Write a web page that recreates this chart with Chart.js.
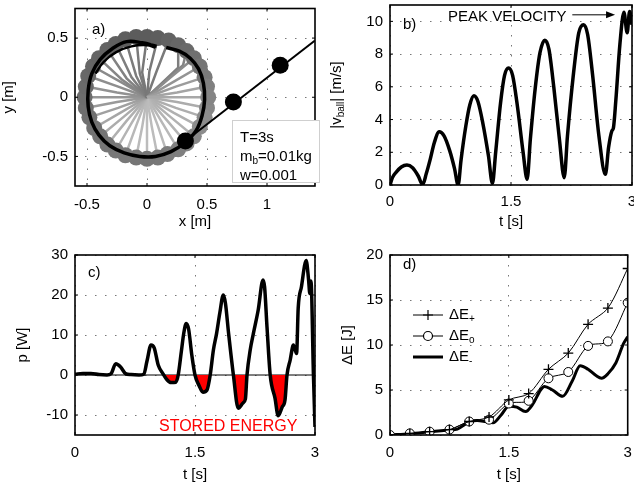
<!DOCTYPE html>
<html>
<head>
<meta charset="utf-8">
<script src="https://cdn.jsdelivr.net/npm/chart.js@4.4.1/dist/chart.umd.min.js"></script>
<style>
  html, body { margin: 0; padding: 0; background: #fff; }
  #wrap { position: relative; width: 634px; height: 489px; }
  #wrap canvas { position: absolute; left: 0; top: 0; width: 634px; height: 489px; }
</style>
</head>
<body>
<div id="wrap">
  <canvas id="armChart" width="634" height="489"></canvas>
  <canvas id="speedChart" width="634" height="489"></canvas>
  <canvas id="powerChart" width="634" height="489"></canvas>
  <canvas id="energyChart" width="634" height="489"></canvas>
</div>
<script>
// ---- a) hand path, released ball and arm/string snapshots ----
const handX = [0.08, -0.04, -0.17, -0.29, -0.39, -0.46, -0.49, -0.49, -0.46, -0.40, -0.31, -0.19, -0.06, 0.07, 0.20, 0.32, 0.41, 0.46, 0.48, 0.47, 0.43, 0.36, 0.27, 0.16];
const handY = [0.43, 0.46, 0.47, 0.41, 0.32, 0.20, 0.06, -0.08, -0.21, -0.32, -0.41, -0.47, -0.50, -0.50, -0.46, -0.38, -0.28, -0.15, -0.02, 0.12, 0.24, 0.33, 0.39, 0.42];
const handInnerX = [-0.43, -0.36, -0.26, -0.13, 0.0, 0.07];
const handInnerY = [0.20, 0.30, 0.38, 0.43, 0.44, 0.42];
const flightX = [0.32, 0.72, 1.11];
const flightY = [-0.37, -0.04, 0.27];
const releaseX = [0.32, 1.4];
const releaseY = [-0.37, 0.48];
const ballX = [0.51, 0.50, 0.48, 0.44, 0.39, 0.33, 0.26, 0.18, 0.09, 0.00, -0.09, -0.18, -0.26, -0.33, -0.40, -0.45, -0.49, -0.51, -0.52, -0.51, -0.48, -0.44, -0.39, -0.33, -0.26, -0.18, -0.09, 0.00, 0.09, 0.17, 0.26, 0.33, 0.39, 0.44, 0.48, 0.50];
const ballY = [0.00, 0.09, 0.17, 0.26, 0.33, 0.39, 0.44, 0.48, 0.50, 0.51, 0.51, 0.49, 0.45, 0.40, 0.33, 0.26, 0.18, 0.09, 0.00, -0.09, -0.17, -0.26, -0.33, -0.40, -0.45, -0.49, -0.51, -0.52, -0.51, -0.48, -0.44, -0.39, -0.33, -0.25, -0.17, -0.09];
const elbowX = [0.25, 0.25, 0.24, 0.22, 0.20, 0.30, 0.26, 0.08, 0.02, -0.04, -0.06, -0.09, -0.13, -0.17, -0.21, -0.22, -0.24, -0.25, -0.26, -0.25, -0.24, -0.22, -0.20, -0.17, -0.13, -0.09, -0.04, 0.00, 0.04, 0.09, 0.13, 0.17, 0.20, 0.22, 0.24, 0.25];
const elbowY = [0.00, 0.04, 0.09, 0.13, 0.17, 0.27, 0.25, 0.22, 0.22, 0.21, 0.20, 0.18, 0.17, 0.16, 0.15, 0.13, 0.09, 0.04, 0.00, -0.04, -0.09, -0.13, -0.17, -0.20, -0.22, -0.24, -0.25, -0.26, -0.25, -0.24, -0.22, -0.20, -0.17, -0.13, -0.09, -0.04];
const ballGray = ["#858585", "#808080", "#7a7a7a", "#757575", "#707070", "#6a6a6a", "#666666", "#626262", "#5e5e5e", "#5c5c5c", "#5c5c5c", "#5e5e5e", "#606060", "#626262", "#646464", "#666666", "#686868", "#6a6a6a", "#6c6c6c", "#6e6e6e", "#707070", "#727272", "#747474", "#767676", "#787878", "#787878", "#767676", "#767676", "#787878", "#7c7c7c", "#808080", "#848484", "#888888", "#8c8c8c", "#8c8c8c", "#888888"];
const armGray = ["#a8a8a8", "#a4a4a4", "#9c9c9c", "#949494", "#8c8c8c", "#848484", "#7e7e7e", "#7a7a7a", "#787878", "#787878", "#7a7a7a", "#7c7c7c", "#7e7e7e", "#828282", "#868686", "#8a8a8a", "#8e8e8e", "#929292", "#969696", "#9a9a9a", "#a0a0a0", "#a6a6a6", "#acacac", "#b0b0b0", "#b4b4b4", "#b8b8b8", "#bababa", "#bcbcbc", "#bcbcbc", "#bababa", "#b8b8b8", "#b4b4b4", "#b2b2b2", "#b0b0b0", "#aeaeae", "#acacac"];
const armXTicks = [-0.5, 0, 0.5, 1];
const armYTicks = [-0.5, 0, 0.5];

// ---- b) ball speed ----
const speedT = [0, 0.03, 0.08, 0.14, 0.21, 0.28, 0.35, 0.405, 0.45, 0.5, 0.55, 0.61, 0.67, 0.74, 0.8, 0.845, 0.88, 0.94, 0.99, 1.04, 1.09, 1.15, 1.22, 1.27, 1.31, 1.37, 1.42, 1.47, 1.52, 1.58, 1.65, 1.70, 1.74, 1.80, 1.86, 1.92, 1.97, 2.03, 2.10, 2.16, 2.20, 2.27, 2.34, 2.40, 2.45, 2.51, 2.59, 2.67, 2.71, 2.75, 2.77, 2.80, 2.85, 2.90, 2.94, 2.97, 3.0];
const speedV = [0, 0.45, 0.8, 1.1, 1.22, 1.05, 0.55, 0.02, 0.7, 1.6, 2.6, 3.25, 3.0, 2.1, 1.0, 0.0, 1.5, 3.6, 4.9, 5.45, 5.1, 3.8, 1.8, 0.1, 2.0, 5.0, 6.7, 7.15, 6.7, 4.8, 2.0, 0.35, 2.8, 5.9, 8.1, 8.85, 8.3, 6.0, 2.8, 0.45, 3.0, 6.6, 9.3, 9.8, 9.2, 6.8, 3.0, 0.65, 2.3, 3.3, 3.5, 5.2, 8.6, 10.55, 9.3, 10.6, 9.8];
const speedTicks = [0, 2, 4, 6, 8, 10];

// ---- c) power ----
const powerT = [0, 0.1, 0.2, 0.3, 0.4, 0.45, 0.51, 0.57, 0.63, 0.7, 0.8, 0.86, 0.9, 0.95, 0.99, 1.04, 1.1, 1.15, 1.2, 1.26, 1.29, 1.33, 1.36, 1.39, 1.42, 1.46, 1.5, 1.55, 1.6, 1.65, 1.69, 1.73, 1.77, 1.81, 1.854, 1.88, 1.92, 1.98, 2.04, 2.1, 2.13, 2.15, 2.19, 2.23, 2.29, 2.35, 2.37, 2.4, 2.44, 2.5, 2.54, 2.59, 2.625, 2.65, 2.69, 2.73, 2.77, 2.79, 2.83, 2.89, 2.92, 2.935, 2.95, 2.98, 3.0];
const powerP = [0.2, 0.4, 0.4, 0.1, 0.0, 0.3, 2.8, 2.0, 0.4, 0.1, 0.0, 0.2, 3.5, 7.5, 6.8, 2.5, 0.3, -1.2, -1.9, -1.8, 0.0, 6.0, 10.5, 12.9, 11.5, 5.0, 0.0, -2.6, -4.3, -3.75, 0.0, 6.25, 10.4, 15.5, 20.0, 18.0, 10.4, 0.0, -8.3, -7.0, -6.0, 0.0, 6.25, 10.4, 16.25, 23.75, 22.0, 12.0, 0.0, -5.8, -10.2, -8.0, -6.25, 0.0, 3.75, 7.5, 5.4, 16.7, 22.0, 28.6, 23.75, 20.4, 23.5, 0.4, -13];
const powerTicks = [-10, 0, 10, 20, 30];

// ---- d) energy ----
const markT = [0, 0.25, 0.5, 0.75, 1.0, 1.25, 1.5, 1.75, 2.0, 2.25, 2.5, 2.75, 3.0];
const gainPlus = [0, 0.18, 0.37, 0.6, 1.5, 2.0, 3.9, 4.6, 7.3, 9.1, 12.3, 14.1, 18.5];
const gainZero = [0, 0.18, 0.37, 0.6, 1.5, 1.7, 3.5, 3.8, 6.3, 7.0, 9.9, 10.4, 14.7];
const gainMinusT = [0, 0.25, 0.5, 0.75, 0.85, 0.95, 1.0, 1.1, 1.2, 1.3, 1.4, 1.5, 1.6, 1.71, 1.8, 1.9, 1.95, 2.05, 2.18, 2.3, 2.4, 2.5, 2.6, 2.67, 2.75, 2.85, 2.95, 3.0];
const gainMinus = [0, 0.15, 0.35, 0.55, 0.65, 1.2, 1.45, 1.6, 1.5, 1.35, 2.2, 3.2, 3.1, 2.6, 3.4, 5.0, 5.4, 5.0, 4.3, 6.0, 7.7, 7.3, 6.6, 6.3, 6.8, 8.0, 10.2, 10.9];
const energyTicks = [0, 5, 10, 15, 20];

const timeTicks = [0, 1.5, 3];

Chart.defaults.font.family = "'Liberation Sans', Arial, Helvetica, sans-serif";
Chart.defaults.font.size = 15;
Chart.defaults.color = "#000";
Chart.defaults.animation = false;

const W = 634;
const H = 489;
const FONT = "15px 'Liberation Sans', Arial, sans-serif";
const SUB_FONT = "10px 'Liberation Sans', Arial, sans-serif";

const pts = (xs, ys) => xs.map((x, i) => ({ x: x, y: ys[i] }));

// p: area edges in page pixels, plus sizes of the two axis strips
function panelOptions(p) {
  const fixTicks = (list) => (scale) => {
    scale.ticks = list.map((v) => ({ value: v }));
  };
  const noPad = (scale) => {
    scale.paddingLeft = 0;
    scale.paddingRight = 0;
    scale.paddingTop = 0;
    scale.paddingBottom = 0;
  };
  return {
    responsive: false,
    animation: false,
    events: [],
    layout: {
      padding: {
        left: p.left - p.yWidth,
        top: p.top,
        right: W - p.right,
        bottom: H - p.bottom - p.xHeight,
      },
    },
    plugins: {
      legend: { display: false },
      tooltip: { enabled: false },
      title: { display: false },
    },
    scales: {
      x: {
        type: "linear",
        min: p.xMin,
        max: p.xMax,
        afterBuildTicks: fixTicks(p.xTicks),
        afterFit: (scale) => {
          scale.height = p.xHeight;
          noPad(scale);
        },
        grid: { color: "#777", lineWidth: 1, drawTicks: false },
        border: { display: false, dash: [1.5, 8.5] },
        ticks: { padding: p.xPad, maxRotation: 0, autoSkip: false, callback: (v) => String(v) },
        title: { display: true, text: p.xTitle, padding: 0 },
      },
      y: {
        type: "linear",
        min: p.yMin,
        max: p.yMax,
        afterBuildTicks: fixTicks(p.yTicks),
        afterFit: (scale) => {
          scale.width = p.yWidth;
          noPad(scale);
        },
        grid: { color: "#777", lineWidth: 1, drawTicks: false },
        border: { display: false, dash: [1.5, 8.5] },
        ticks: { padding: 7, autoSkip: false, callback: (v) => String(v) },
        title: { display: !!p.yTitle, text: p.yTitle, padding: 0 },
      },
    },
  };
}

// black axes box with short inward ticks and the panel letter
function framePlugin(letter, dx, dy) {
  return {
    id: "frame",
    afterDatasetsDraw(chart) {
      const { ctx, chartArea: a, scales } = chart;
      ctx.save();
      ctx.strokeStyle = "#000";
      ctx.lineWidth = 1.6;
      ctx.strokeRect(a.left, a.top, a.right - a.left, a.bottom - a.top);
      ctx.lineWidth = 1;
      ctx.beginPath();
      scales.x.ticks.forEach((t) => {
        const x = scales.x.getPixelForValue(t.value);
        ctx.moveTo(x, a.bottom);
        ctx.lineTo(x, a.bottom - 3);
        ctx.moveTo(x, a.top);
        ctx.lineTo(x, a.top + 3);
      });
      scales.y.ticks.forEach((t) => {
        const y = scales.y.getPixelForValue(t.value);
        ctx.moveTo(a.left, y);
        ctx.lineTo(a.left + 3, y);
        ctx.moveTo(a.right, y);
        ctx.lineTo(a.right - 3, y);
      });
      ctx.stroke();
      ctx.font = FONT;
      ctx.fillStyle = "#000";
      ctx.textBaseline = "middle";
      ctx.fillText(letter, a.left + dx, a.top + dy);
      ctx.restore();
    },
  };
}

// text with a small lowered part, e.g. m_b
function subText(ctx, parts, x, y) {
  parts.forEach((p) => {
    ctx.font = p.sub ? SUB_FONT : FONT;
    ctx.fillText(p.t, x, y + (p.sub ? 4 : 0));
    x += ctx.measureText(p.t).width;
  });
  return x;
}
function subWidth(ctx, parts) {
  let w = 0;
  parts.forEach((p) => {
    ctx.font = p.sub ? SUB_FONT : FONT;
    w += ctx.measureText(p.t).width;
  });
  return w;
}

// ---------------- a) ----------------
const armChart = document.getElementById("armChart");

const fanSets = ballX.map((bx, i) => ({
  data: [{ x: 0, y: 0 }, { x: elbowX[i], y: elbowY[i] }, { x: bx, y: ballY[i] }],
  showLine: true,
  borderColor: armGray[i],
  borderWidth: 2.5,
  pointRadius: [0, 0, 8],
  pointBackgroundColor: ballGray[i],
  pointBorderWidth: 0,
  order: 10,
}));

new Chart(armChart, {
  type: "scatter",
  data: {
    datasets: [
      {
        data: pts(flightX, flightY),
        showLine: false,
        pointRadius: 8.5,
        pointBackgroundColor: "#000",
        pointBorderWidth: 0,
        order: 0,
      },
      {
        data: pts(releaseX, releaseY),
        showLine: true,
        borderColor: "#000",
        borderWidth: 2,
        pointRadius: 0,
        order: 1,
      },
      {
        data: pts(handX, handY),
        showLine: true,
        borderColor: "#000",
        borderWidth: 3.5,
        tension: 0.4,
        pointRadius: 0,
        order: 2,
      },
      {
        data: pts(handInnerX, handInnerY),
        showLine: true,
        borderColor: "#000",
        borderWidth: 2.5,
        tension: 0.4,
        pointRadius: 0,
        order: 3,
      },
      ...fanSets,
    ],
  },
  options: panelOptions({
    left: 75, top: 5, right: 315, bottom: 186, yWidth: 75, xHeight: 45, xPad: 10,
    xMin: -0.6, xMax: 1.4, xTicks: armXTicks, yMin: -0.75, yMax: 0.75, yTicks: armYTicks,
    xTitle: "x [m]", yTitle: "y [m]",
  }),
  plugins: [
    framePlugin("a)", 17, 21),
    {
      id: "paramBox",
      afterDraw(chart) {
        const ctx = chart.ctx;
        ctx.save();
        ctx.fillStyle = "#fff";
        ctx.fillRect(232, 120, 88, 63);
        ctx.strokeStyle = "#cfcfcf";
        ctx.lineWidth = 1;
        ctx.strokeRect(232.5, 120.5, 87, 62);
        ctx.fillStyle = "#000";
        ctx.textBaseline = "middle";
        ctx.font = FONT;
        ctx.fillText("T=3s", 240, 138);
        subText(ctx, [{ t: "m" }, { t: "b", sub: true }, { t: "=0.01kg" }], 240, 157);
        ctx.font = FONT;
        ctx.fillText("w=0.001", 240, 176);
        ctx.restore();
      },
    },
  ],
});

// ---------------- b) ----------------
const speedChart = document.getElementById("speedChart");

new Chart(speedChart, {
  type: "scatter",
  data: {
    datasets: [
      {
        data: pts(speedT, speedV),
        showLine: true,
        borderColor: "#000",
        borderWidth: 3.5,
        cubicInterpolationMode: "monotone",
        pointRadius: 0,
      },
    ],
  },
  options: panelOptions({
    left: 390, top: 5, right: 632, bottom: 185, yWidth: 62, xHeight: 46, xPad: 8,
    xMin: 0, xMax: 3, xTicks: timeTicks, yMin: 0, yMax: 11, yTicks: speedTicks,
    xTitle: "t [s]", yTitle: "",
  }),
  plugins: [
    framePlugin("b)", 13, 20),
    {
      id: "speedNotes",
      afterDraw(chart) {
        const { ctx, scales } = chart;
        const x = scales.x;
        const y = scales.y;
        ctx.save();
        ctx.fillStyle = "#000";
        ctx.strokeStyle = "#000";
        ctx.textBaseline = "middle";
        ctx.font = FONT;
        ctx.fillText("PEAK VELOCITY", x.getPixelForValue(0.72), y.getPixelForValue(10.3));
        const ay = y.getPixelForValue(10.4);
        const x0 = x.getPixelForValue(2.26);
        const x1 = x.getPixelForValue(2.79);
        ctx.lineWidth = 1;
        ctx.beginPath();
        ctx.moveTo(x0, ay);
        ctx.lineTo(x1 - 6, ay);
        ctx.stroke();
        ctx.beginPath();
        ctx.moveTo(x1, ay);
        ctx.lineTo(x1 - 9, ay - 3.5);
        ctx.lineTo(x1 - 9, ay + 3.5);
        ctx.closePath();
        ctx.fill();
        // |v_ball| [m/s], rotated
        const parts = [{ t: "|v" }, { t: "ball", sub: true }, { t: "| [m/s]" }];
        const w = subWidth(ctx, parts);
        ctx.translate(337, (chart.chartArea.top + chart.chartArea.bottom) / 2);
        ctx.rotate(-Math.PI / 2);
        subText(ctx, parts, -w / 2, 0);
        ctx.restore();
      },
    },
  ],
});

// ---------------- c) ----------------
const powerChart = document.getElementById("powerChart");

new Chart(powerChart, {
  type: "scatter",
  data: {
    datasets: [
      {
        data: pts(powerT, powerP),
        showLine: true,
        borderColor: "#000",
        borderWidth: 3.5,
        cubicInterpolationMode: "monotone",
        pointRadius: 0,
        fill: { target: { value: 0 }, above: "rgba(0,0,0,0)", below: "#ff0000" },
      },
      {
        data: [{ x: 0, y: 0 }, { x: 3, y: 0 }],
        showLine: true,
        borderColor: "#000",
        borderWidth: 1,
        pointRadius: 0,
      },
    ],
  },
  options: panelOptions({
    left: 75, top: 255, right: 315, bottom: 435, yWidth: 61, xHeight: 49, xPad: 9,
    xMin: 0, xMax: 3, xTicks: timeTicks, yMin: -15, yMax: 30, yTicks: powerTicks,
    xTitle: "t [s]", yTitle: "p [W]",
  }),
  plugins: [
    framePlugin("c)", 13, 18),
    {
      id: "storedNote",
      afterDraw(chart) {
        const { ctx, scales } = chart;
        ctx.save();
        ctx.fillStyle = "#ff0000";
        ctx.textBaseline = "middle";
        ctx.font = "16px 'Liberation Sans', Arial, sans-serif";
        ctx.fillText("STORED ENERGY", scales.x.getPixelForValue(1.05), scales.y.getPixelForValue(-13));
        ctx.restore();
      },
    },
  ],
});

// ---------------- d) ----------------
const energyChart = document.getElementById("energyChart");

new Chart(energyChart, {
  type: "scatter",
  data: {
    datasets: [
      {
        data: pts(markT, gainPlus),
        showLine: true,
        borderColor: "#000",
        borderWidth: 1,
        tension: 0.3,
        pointStyle: "cross",
        pointRadius: 5,
        pointBorderColor: "#000",
        pointBorderWidth: 1.3,
      },
      {
        data: pts(markT, gainZero),
        showLine: true,
        borderColor: "#000",
        borderWidth: 1,
        tension: 0.3,
        pointStyle: "circle",
        pointRadius: 4.5,
        pointBackgroundColor: "#fff",
        pointBorderColor: "#000",
        pointBorderWidth: 1,
      },
      {
        data: pts(gainMinusT, gainMinus),
        showLine: true,
        borderColor: "#000",
        borderWidth: 3,
        cubicInterpolationMode: "monotone",
        pointRadius: 0,
      },
    ],
  },
  options: panelOptions({
    left: 390, top: 255, right: 632, bottom: 435, yWidth: 51, xHeight: 49, xPad: 9,
    xMin: 0, xMax: 3, xTicks: timeTicks, yMin: 0, yMax: 20, yTicks: energyTicks,
    xTitle: "t [s]", yTitle: "\u0394E [J]",
  }),
  plugins: [
    framePlugin("d)", 13, 10),
    {
      id: "energyKey",
      afterDraw(chart) {
        const ctx = chart.ctx;
        const rows = [
          { y: 315, sub: "+", mark: "cross", width: 1 },
          { y: 336, sub: "o", mark: "circle", width: 1 },
          { y: 357, sub: "-", mark: null, width: 3 },
        ];
        ctx.save();
        ctx.strokeStyle = "#000";
        ctx.fillStyle = "#000";
        ctx.textBaseline = "middle";
        rows.forEach((r) => {
          ctx.lineWidth = r.width;
          ctx.beginPath();
          ctx.moveTo(413, r.y);
          ctx.lineTo(443, r.y);
          ctx.stroke();
          ctx.lineWidth = 1.2;
          if (r.mark === "cross") {
            ctx.beginPath();
            ctx.moveTo(428, r.y - 5);
            ctx.lineTo(428, r.y + 5);
            ctx.moveTo(423, r.y);
            ctx.lineTo(433, r.y);
            ctx.stroke();
          } else if (r.mark === "circle") {
            ctx.beginPath();
            ctx.arc(428, r.y, 4.5, 0, Math.PI * 2);
            ctx.fillStyle = "#fff";
            ctx.fill();
            ctx.stroke();
            ctx.fillStyle = "#000";
          }
          subText(ctx, [{ t: "\u0394E" }, { t: r.sub, sub: true }], 449, r.y);
        });
        ctx.restore();
      },
    },
  ],
});
</script>
</body>
</html>
